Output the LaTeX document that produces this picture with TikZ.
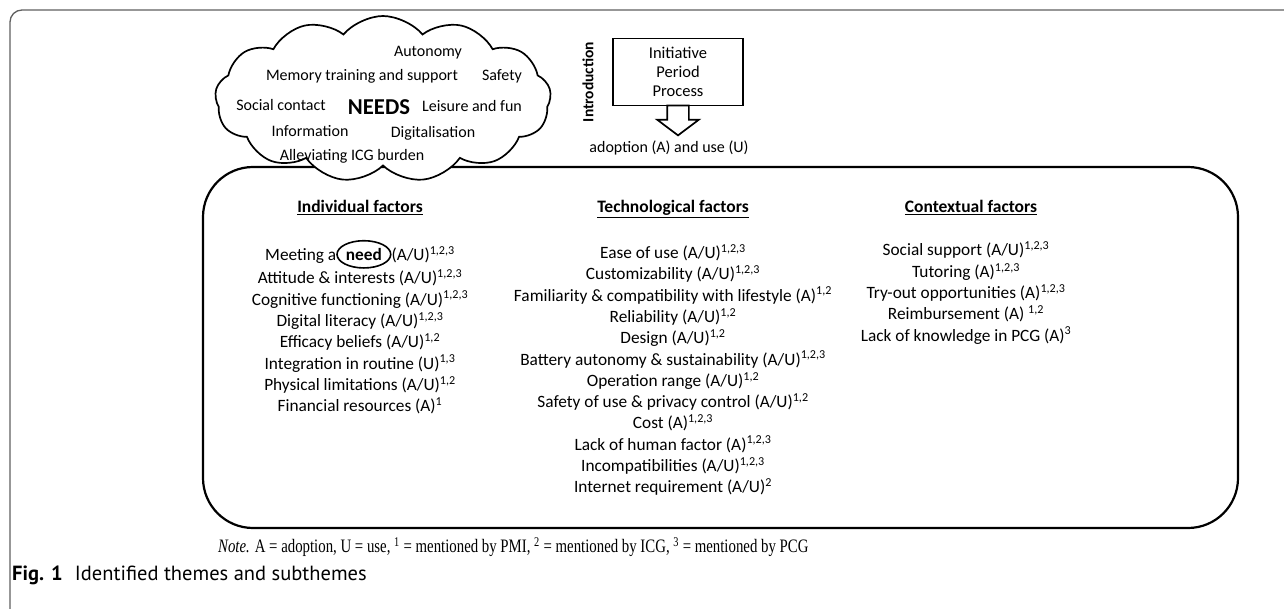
\documentclass[tikz,border=0pt]{standalone}
\usepackage{fontspec}
\setmainfont{Carlito}
\newfontfamily\notefont[FakeStretch=0.78]{Liberation Serif}
\newfontfamily\capfont{PT Sans}
\usetikzlibrary{shapes.symbols,shapes.geometric,shapes.arrows,positioning,fit}

\begin{document}
\begin{tikzpicture}[x=1pt,y=-1pt,node distance=1.5cm]
\tikzstyle{puff}=[cloud,draw=black,fill=white,line width=1.7pt,cloud puffs=13,cloud puff arc=100,aspect=2.1,minimum width=336pt,minimum height=166pt]
\tikzstyle{need}=[font=\fontsize{16}{19}\selectfont]
\tikzstyle{head}=[anchor=base,font=\fontsize{17.5}{21}\selectfont\bfseries]
\tikzstyle{factor}=[align=center,inner sep=0pt,font=\fontsize{17.3}{21.3}\selectfont]
\tikzstyle{frame}=[draw=black,line width=2.2pt,rounded corners=50pt,inner sep=0pt]
\tikzstyle{ippbox}=[draw=black,line width=1.7pt,fill=white,minimum width=130pt,minimum height=67pt,align=center,inner sep=0pt,font=\fontsize{16.5}{19}\selectfont]
\tikzstyle{blockarrow}=[single arrow,draw=black,fill=white,line width=1.7pt,shape border rotate=270,inner sep=10pt,single arrow head extend=10pt,single arrow tip angle=106,minimum height=28pt]

\useasboundingbox (0,0) rectangle (1284,609);
\draw[gray!75!black,line width=1.3pt,rounded corners=12pt] (10,650) -- (10,10) -- (1330,10);

\node[frame,fit={(203,167)(1238,528)}] (box) {};
\node[puff] (needs) at (383,99) {};

% needs
\node[need] (n1) at (428,53) {Autonomy};
\node[need] (n2) at (362,76) {Memory training and support};
\node[need] (n3) at (502,76) {Safety};
\node[need] (n4) at (281,105) {Social contact};
\node[font=\fontsize{22.7}{26}\selectfont\bfseries] (n0) at (379,107) {NEEDS};
\node[need] (n5) at (472,106) {Leisure and fun};
\node[need] (n6) at (310,131) {Information};
\node[need] (n7) at (433,133) {Digitalisation};
\node[need] (n8) at (352,156) {Alleviating ICG burden};

% introduction
\node[ippbox] (ipp) at (678,72) {Initiative\\Period\\Process};
\node[blockarrow] (arr) [below=-1.7pt of ipp] {};
\node[need] (adopt) at (669,148) {adoption (A) and use (U)};
\node[rotate=90,font=\fontsize{15.5}{18}\selectfont\bfseries] (lbl) at (588,82) {Introduction};

% factors
\node[head] (ind) at (360,213) {\underline{Individual factors}};
\node[head] (tech) at (673,213) {\underline{Technological factors}};
\node[head] (ctx) at (971,213) {\underline{Contextual factors}};

\node[factor] (indl) at (360,327) {Meeting a\tikz[baseline=(nd.base)]\node[draw,ellipse,line width=1.6pt,inner xsep=1pt,inner ysep=3.5pt] (nd) {\textbf{need}};(A/U)\textsuperscript{1,2,3}\\
  Attitude \& interests (A/U)\textsuperscript{1,2,3}\\
  Cognitive functioning (A/U)\textsuperscript{1,2,3}\\
  Digital literacy (A/U)\textsuperscript{1,2,3}\\
  Efficacy beliefs (A/U)\textsuperscript{1,2}\\
  Integration in routine (U)\textsuperscript{1,3}\\
  Physical limitations (A/U)\textsuperscript{1,2}\\
  Financial resources (A)\textsuperscript{1}};

\node[factor] (techl) at (673,370) {Ease of use (A/U)\textsuperscript{1,2,3}\\
  Customizability (A/U)\textsuperscript{1,2,3}\\
  Familiarity \& compatibility with lifestyle (A)\textsuperscript{1,2}\\
  Reliability (A/U)\textsuperscript{1,2}\\
  Design (A/U)\textsuperscript{1,2}\\
  Battery autonomy \& sustainability (A/U)\textsuperscript{1,2,3}\\
  Operation range (A/U)\textsuperscript{1,2}\\
  Safety of use \& privacy control (A/U)\textsuperscript{1,2}\\
  Cost (A)\textsuperscript{1,2,3}\\
  Lack of human factor (A)\textsuperscript{1,2,3}\\
  Incompatibilities (A/U)\textsuperscript{1,2,3}\\
  Internet requirement (A/U)\textsuperscript{2}};

\node[factor] (ctxl) at (966,293) {Social support (A/U)\textsuperscript{1,2,3}\\
  Tutoring (A)\textsuperscript{1,2,3}\\
  Try-out opportunities (A)\textsuperscript{1,2,3}\\
  Reimbursement (A) \textsuperscript{1,2}\\
  Lack of knowledge in PCG (A)\textsuperscript{3}};

% note and caption
\node[anchor=west,inner sep=0pt,font=\notefont\fontsize{19}{21}\selectfont] (note) at (218,547) {\textit{Note.} A = adoption, U = use, \textsuperscript{1} = mentioned by PMI, \textsuperscript{2} = mentioned by ICG, \textsuperscript{3} = mentioned by PCG};
\node[anchor=west,inner sep=0pt,font=\capfont\fontsize{20.5}{23}\selectfont] (cap) at (12,575) {\textbf{Fig. 1}\hspace{0.6em}Identified themes and subthemes};
\end{tikzpicture}
\end{document}
